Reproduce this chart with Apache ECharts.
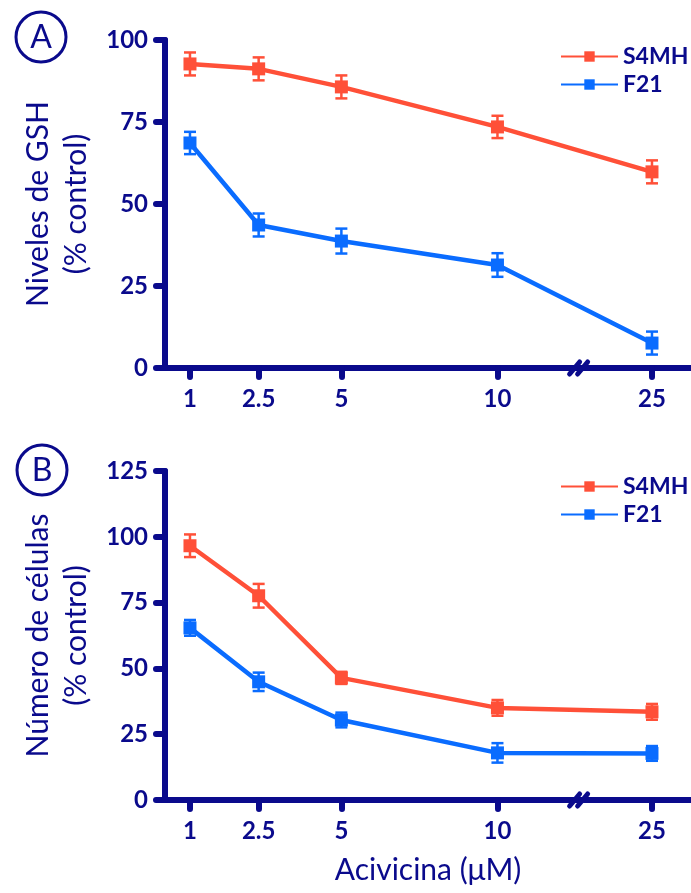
<!DOCTYPE html>
<html>
<head>
<meta charset="utf-8">
<script src="https://cdn.jsdelivr.net/npm/echarts@6/dist/echarts.min.js"></script>
<style>
  html, body { margin: 0; padding: 0; background: #fff; }
  #chart { width: 691px; height: 893px; }
</style>
</head>
<body>
<div id="chart"></div>
<script>
// dose labels and their slot on the broken x axis
const xLabels = ['1', '2.5', '5', '10', '25'];
const xSlots = [0, 0.44, 0.97, 1.97, 2.96];
const breakSlot = 2.49;

// A: GSH levels (% control)
const gshS4MH = [92.7, 91.2, 85.7, 73.5, 59.8];
const gshS4MHErr = [3.5, 3.5, 3.5, 3.4, 3.5];
const gshF21 = [68.6, 43.6, 38.7, 31.4, 7.6];
const gshF21Err = [3.4, 3.5, 3.8, 3.6, 3.5];

// B: cell number (% control)
const cellS4MH = [96.6, 77.6, 46.4, 35.0, 33.5];
const cellS4MHErr = [4.3, 4.5, 2.3, 3.0, 3.0];
const cellF21 = [65.4, 44.9, 30.4, 17.9, 17.7];
const cellF21Err = [3.0, 3.5, 2.8, 3.7, 2.8];

const navy = '#0A0A8C';
const red = '#FF5038';
const blue = '#0A6CFF';
const font = 'Lato';

const pts = vals => vals.map((v, i) => [xSlots[i], v]);
const errPts = (vals, errs) => vals.map((v, i) => [xSlots[i], v, errs[i]]);

function errorBars(idx, vals, errs, color) {
    return {
        type: 'custom',
        xAxisIndex: idx, yAxisIndex: idx,
        data: errPts(vals, errs),
        encode: {x: 0, y: 1},
        z: 3,
        silent: true,
        renderItem: (params, api) => {
            const x = api.value(0), y = api.value(1), e = api.value(2);
            const top = api.coord([x, y + e]);
            const bot = api.coord([x, y - e]);
            const w = 6;
            const st = {stroke: color, lineWidth: 2.5};
            return {
                type: 'group',
                children: [
                    {type: 'line', shape: {x1: top[0], y1: top[1], x2: bot[0], y2: bot[1]}, style: st},
                    {type: 'line', shape: {x1: top[0] - w, y1: top[1], x2: top[0] + w, y2: top[1]}, style: st},
                    {type: 'line', shape: {x1: bot[0] - w, y1: bot[1], x2: bot[0] + w, y2: bot[1]}, style: st}
                ]
            };
        }
    };
}

function lineSeries(idx, name, vals, color) {
    return {
        type: 'line',
        name: name,
        xAxisIndex: idx, yAxisIndex: idx,
        data: pts(vals),
        symbol: 'rect',
        symbolSize: 13,
        lineStyle: {color: color, width: 4.5},
        itemStyle: {color: color},
        z: 4,
        animation: false
    };
}

function breakMark(idx) {
    return {
        type: 'custom',
        xAxisIndex: idx, yAxisIndex: idx,
        data: [[breakSlot, 0]],
        z: 10,
        silent: true,
        renderItem: (params, api) => {
            const c = api.coord([api.value(0), api.value(1)]);
            const st = {stroke: navy, lineWidth: 5, lineCap: 'round'};
            return {
                type: 'group',
                children: [-4, 4].map(dx => ({
                    type: 'line',
                    shape: {x1: c[0] + dx - 5, y1: c[1] + 6, x2: c[0] + dx + 5, y2: c[1] - 6},
                    style: st
                }))
            };
        }
    };
}

function xAxis(idx, withName) {
    const ax = {
        type: 'value',
        gridIndex: idx,
        min: -0.16,
        max: 3.21,
        axisLine: {onZero: false, lineStyle: {color: navy, width: 6, cap: 'round'}},
        axisTick: {show: true, length: 9, customValues: xSlots,
            lineStyle: {color: navy, width: 6, cap: 'round'}},
        axisLabel: {
            customValues: xSlots,
            margin: 19,
            color: navy,
            fontFamily: font,
            fontSize: 24,
            fontWeight: 'bold',
            formatter: v => xLabels[xSlots.indexOf(v)]
        },
        splitLine: {show: false}
    };
    if (withName) {
        ax.name = 'Acivicina (μM)';
        ax.nameLocation = 'middle';
        ax.nameGap = 55;
        ax.nameTextStyle = {color: navy, fontFamily: font, fontSize: 30};
    }
    return ax;
}

function yAxis(idx, max, name) {
    return {
        type: 'value',
        gridIndex: idx,
        min: 0,
        max: max,
        interval: 25,
        name: name,
        nameLocation: 'middle',
        nameRotate: 90,
        nameGap: 67,
        nameTextStyle: {color: navy, fontFamily: font, fontSize: 30, lineHeight: 38, align: 'center'},
        axisLine: {show: true, onZero: false, lineStyle: {color: navy, width: 6, cap: 'round'}},
        axisTick: {show: true, length: 9, lineStyle: {color: navy, width: 6, cap: 'round'}},
        axisLabel: {margin: 17, color: navy, fontFamily: font, fontSize: 24, fontWeight: 'bold'},
        splitLine: {show: false}
    };
}

function legend(top) {
    return {
        orient: 'vertical',
        left: 555,
        top: top,
        data: ['S4MH', 'F21'],
        itemWidth: 57,
        itemHeight: 13,
        itemGap: 5,
        lineStyle: {width: 2},
        textStyle: {color: navy, fontFamily: font, fontSize: 23, fontWeight: 'bold'},
        selectedMode: false
    };
}

function badge(letter, cx, cy) {
    return {
        type: 'group',
        children: [
            {type: 'circle', shape: {cx: cx, cy: cy, r: 25}, style: {fill: 'none', stroke: navy, lineWidth: 3}},
            {type: 'text', x: cx, y: cy + 1, style: {text: letter, fill: navy, fontFamily: font, fontSize: 32,
                align: 'center', verticalAlign: 'middle'}}
        ]
    };
}

const chart = echarts.init(document.getElementById('chart'), null, {renderer: 'canvas'});
chart.setOption({
    animation: false,
    backgroundColor: '#fff',
    grid: [
        {left: 165, top: 40, width: 526, height: 328},
        {left: 165, top: 471, width: 526, height: 329}
    ],
    xAxis: [xAxis(0, false), xAxis(1, true)],
    yAxis: [
        yAxis(0, 100, 'Niveles de GSH\n(% control)'),
        yAxis(1, 125, 'Número de células\n(% control)')
    ],
    legend: [legend(40), legend(470)],
    graphic: [badge('A', 41, 37), badge('B', 42, 470)],
    series: [
        lineSeries(0, 'S4MH', gshS4MH, red),
        lineSeries(0, 'F21', gshF21, blue),
        errorBars(0, gshS4MH, gshS4MHErr, red),
        errorBars(0, gshF21, gshF21Err, blue),
        breakMark(0),
        lineSeries(1, 'S4MH', cellS4MH, red),
        lineSeries(1, 'F21', cellF21, blue),
        errorBars(1, cellS4MH, cellS4MHErr, red),
        errorBars(1, cellF21, cellF21Err, blue),
        breakMark(1)
    ]
});
</script>
</body>
</html>
